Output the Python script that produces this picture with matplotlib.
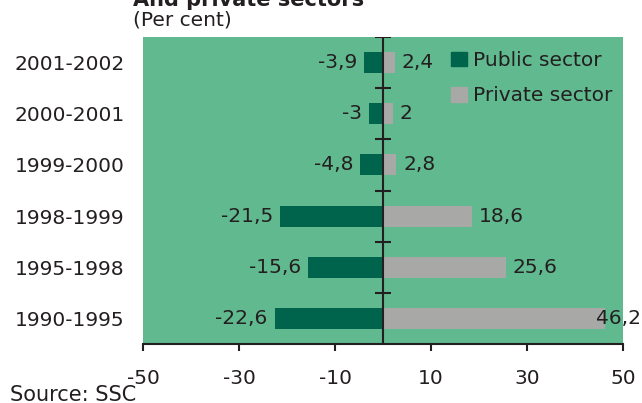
import matplotlib
matplotlib.use("Agg")
import matplotlib.pyplot as plt
from matplotlib.patches import Patch

periods = ["2001-2002", "2000-2001", "1999-2000", "1998-1999", "1995-1998", "1990-1995"]
public = [-3.9, -3.0, -4.8, -21.5, -15.6, -22.6]
private = [2.4, 2.0, 2.8, 18.6, 25.6, 46.2]
public_labels = ["-3,9", "-3", "-4,8", "-21,5", "-15,6", "-22,6"]
private_labels = ["2,4", "2", "2,8", "18,6", "25,6", "46,2"]
xticks = [-50, -30, -10, 10, 30, 50]

BG = "#61b98f"
PUBLIC = "#00634b"
PRIVATE = "#a8a8a6"
INK = "#231f20"
FS = 14.5

plt.rcParams["font.family"] = ["DejaVu Sans"]

fig = plt.figure(figsize=(6.42, 4.03), dpi=100)
W, H = 642, 403
ax = fig.add_axes([143 / W, 1 - 344 / H, 480 / W, 307 / H])
ax.set_facecolor(BG)

ypos = list(range(len(periods)))
ax.barh(ypos, public, height=0.41, color=PUBLIC)
ax.barh(ypos, private, height=0.41, color=PRIVATE)

for y, v, t in zip(ypos, public, public_labels):
    ax.annotate(t, (v, y), xytext=(-5, 0), textcoords="offset points",
                ha="right", va="center", fontsize=FS, color=INK)
for y, v, t in zip(ypos, private, private_labels):
    # the longest bar has no room left, its label sits over the bar end
    off = 5 if v < 40 else -6
    ax.annotate(t, (v, y), xytext=(off, 0), textcoords="offset points",
                ha="left", va="center", fontsize=FS, color=INK, clip_on=False)

ax.set_xlim(-50, 50)
ax.set_ylim(len(periods) - 0.5, -0.5)

# centre axis with ticks at the category boundaries
ax.axvline(0, color=INK, lw=1.5)
for b in [i - 0.5 for i in range(len(periods))]:
    ax.plot([-1.6, 1.6], [b, b], color=INK, lw=1.5, solid_capstyle="butt")

ax.set_yticks(ypos)
ax.set_yticklabels(periods, fontsize=FS, color=INK)
ax.tick_params(axis="y", length=0, pad=13.5)

ax.set_xticks(xticks)
ax.set_xticklabels([str(x) for x in xticks], fontsize=FS, color=INK)
ax.tick_params(axis="x", direction="out", length=5, width=1.5, color=INK, pad=13)

for side in ["top", "left", "right"]:
    ax.spines[side].set_visible(False)
ax.spines["bottom"].set_color(INK)
ax.spines["bottom"].set_linewidth(1.5)

handles = [Patch(color=PUBLIC, label="Public sector"),
           Patch(color=PRIVATE, label="Private sector")]
fig.legend(handles=handles, loc="upper left", bbox_to_anchor=(451 / W, 1 - 51 / H),
           frameon=False, fontsize=FS, handlelength=0.8, handleheight=0.76,
           handletextpad=0.3, labelspacing=0.8, borderpad=0, borderaxespad=0,
           labelcolor=INK)

fig.text(133 / W, 1 - 6 / H, "And private sectors", fontsize=15, fontweight="bold",
         color=INK, ha="left", va="baseline")
fig.text(133 / W, 1 - 26 / H, "(Per cent)", fontsize=FS, color=INK,
         ha="left", va="baseline")
fig.text(10 / W, 1 - 401 / H, "Source: SSC", fontsize=15, color=INK,
         ha="left", va="baseline")

fig.savefig("out.png", dpi=100)
